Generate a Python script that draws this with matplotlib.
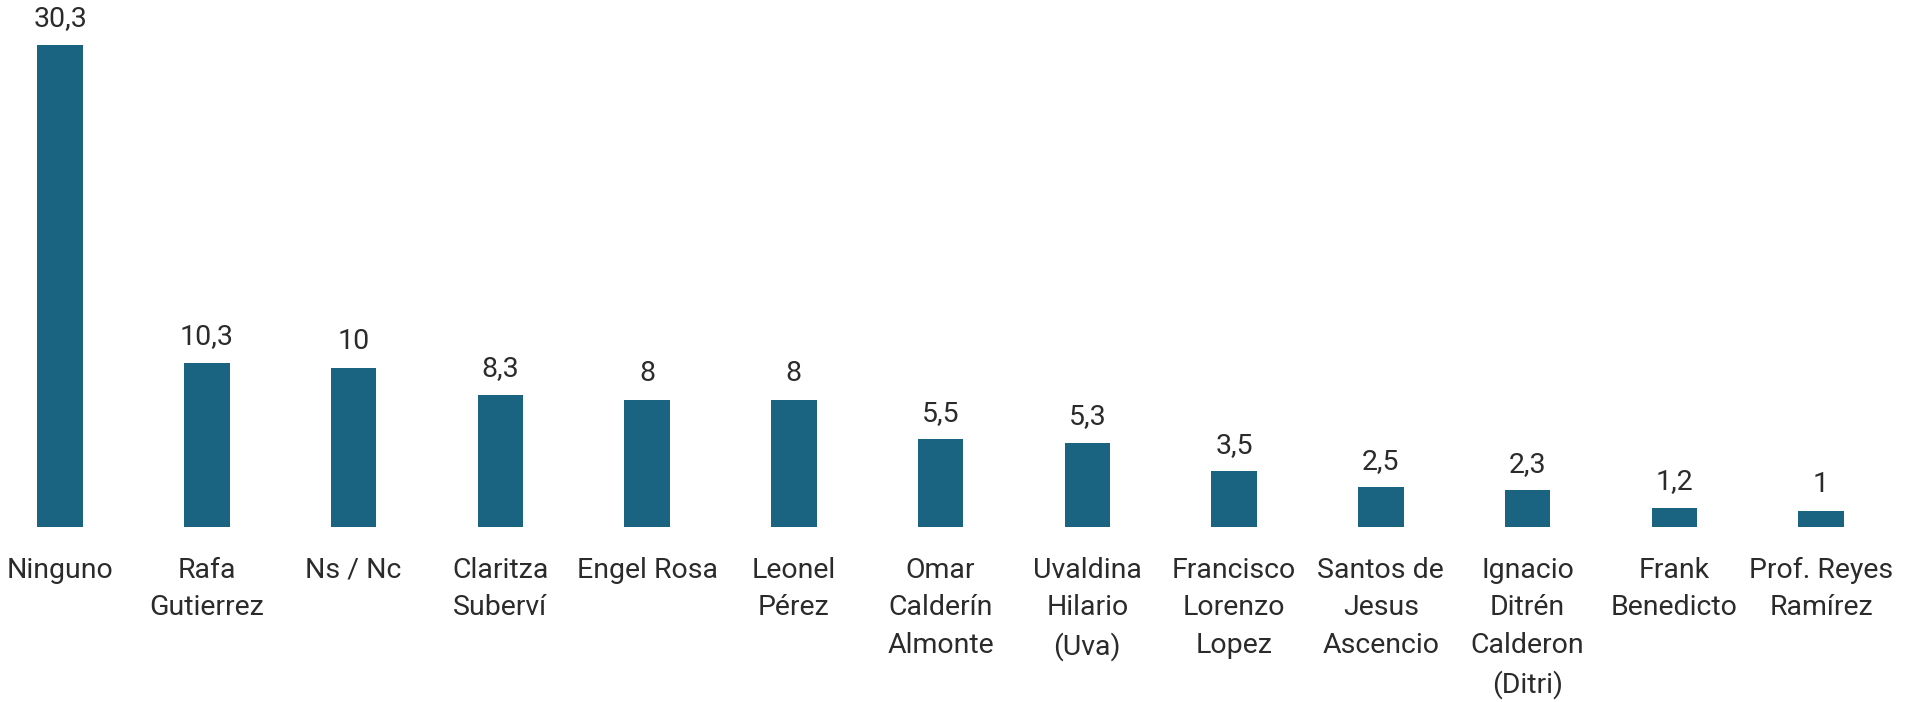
import matplotlib
matplotlib.use("Agg")
import matplotlib.pyplot as plt

# candidatos y porcentajes
candidatos = ["Ninguno", "Rafa\nGutierrez", "Ns / Nc", "Claritza\nSuberví",
              "Engel Rosa", "Leonel\nPérez", "Omar\nCalderín\nAlmonte",
              "Uvaldina\nHilario\n(Uva)", "Francisco\nLorenzo\nLopez",
              "Santos de\nJesus\nAscencio", "Ignacio\nDitrén\nCalderon\n(Ditri)",
              "Frank\nBenedicto", "Prof. Reyes\nRamírez"]
porcentajes = [30.3, 10.3, 10, 8.3, 8, 8, 5.5, 5.3, 3.5, 2.5, 2.3, 1.2, 1]

plt.rcParams["font.family"] = ["Roboto", "DejaVu Sans"]

color_barra = "#1a6381"
color_texto = "#2b2b2b"

fig = plt.figure(figsize=(19.12, 7.02), dpi=100)
ax = fig.add_axes([0, 0, 1, 1])

x = range(len(porcentajes))
ax.bar(x, porcentajes, width=0.31, color=color_barra)

for xi, v in zip(x, porcentajes):
    txt = ("%g" % v).replace(".", ",")
    ax.annotate(txt, (xi, v), xytext=(0, 9), textcoords="offset points",
                ha="center", va="bottom", fontsize=20.5, color=color_texto)
    ax.annotate(candidatos[xi], (xi, 0), xytext=(0, -21.5), textcoords="offset points",
                ha="center", va="top", fontsize=20.5, color=color_texto,
                linespacing=1.5)

ax.set_xlim(-0.41, 12.62)
ax.set_ylim(-11.0, 33.1)
ax.axis("off")

fig.savefig("out.png", dpi=100, facecolor="white")
